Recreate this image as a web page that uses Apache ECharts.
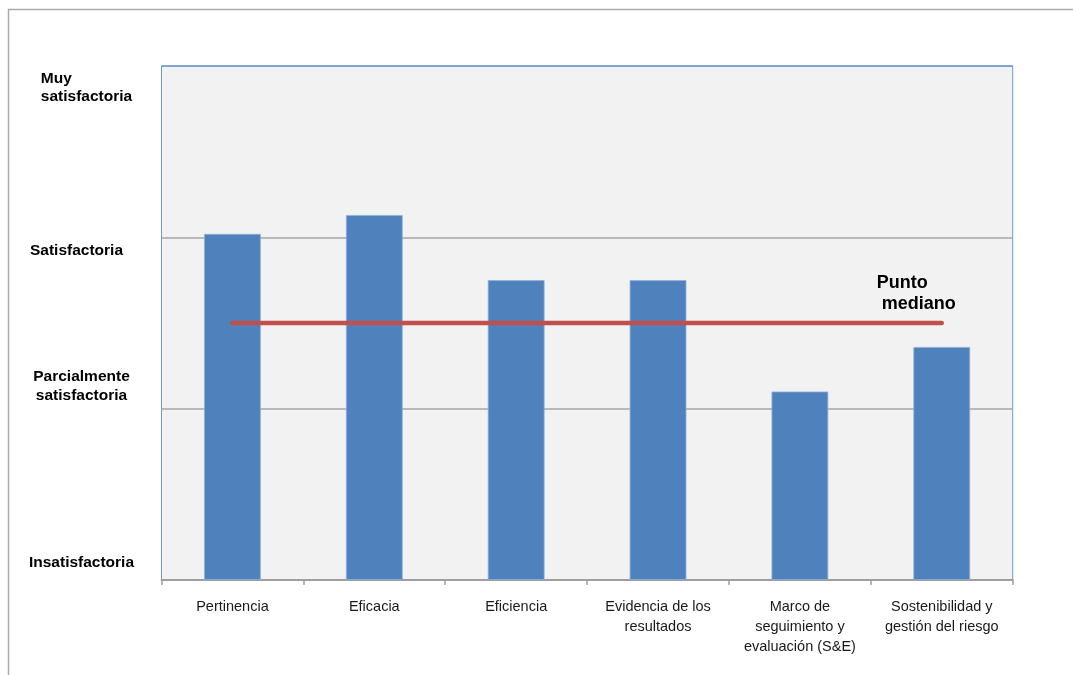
<!DOCTYPE html>
<html>
<head>
<meta charset="utf-8">
<script src="https://cdn.jsdelivr.net/npm/echarts@6/dist/echarts.min.js"></script>
<style>
html,body{margin:0;padding:0;background:#fff;}
#chart{width:1073px;height:675px;}
</style>
</head>
<body>
<div id="chart"></div>
<script>
const categories = ['Pertinencia', 'Eficacia', 'Eficiencia', 'Evidencia de los\nresultados', 'Marco de\nseguimiento y\nevaluación (S&E)', 'Sostenibilidad y\ngestión del riesgo'];
const ratings = [2.02, 2.13, 1.75, 1.75, 1.10, 1.36];
const medianValues = [1.5, 1.5, 1.5, 1.5, 1.5, 1.5];
const medianLabel = 'Punto\n mediano';
const levelLabels = ['Insatisfactoria', 'Parcialmente\nsatisfactoria', 'Satisfactoria', 'Muy\nsatisfactoria'];
const levelLabelValues = [0.10, 1.13, 1.92, 2.875];

const FONT = 'Liberation Sans, Arial, sans-serif';
const chart = echarts.init(document.getElementById('chart'));

function levelFormatter(v) {
  let best = 0, bd = Infinity;
  levelLabelValues.forEach((lv, i) => { const d = Math.abs(lv - v); if (d < bd) { bd = d; best = i; } });
  if (best === 3) {
    return levelLabels[best].split('\n').map(s => '{m|' + s + '}').join('\n');
  }
  if (best === 2) {
    return '{s|' + levelLabels[best] + '}';
  }
  return levelLabels[best];
}

const labelFont = { color: '#000', fontWeight: 'bold', fontSize: 15.5, fontFamily: FONT };

chart.setOption({
  animation: false,
  backgroundColor: '#ffffff',
  graphic: [{
    type: 'rect', silent: true, z: -10,
    shape: { x: 8.5, y: 9.5, width: 1200, height: 800 },
    style: { fill: 'none', stroke: '#ABABAB', lineWidth: 1.5 }
  }],
  grid: {
    left: 161.5, right: 60.3, top: 66, bottom: 95,
    show: true, backgroundColor: '#F2F2F2', borderColor: '#6F97CB', borderWidth: 1
  },
  xAxis: {
    type: 'category',
    data: categories,
    axisLine: { lineStyle: { color: '#9E9E9E', width: 2 } },
    axisTick: { show: true, length: 5, lineStyle: { color: '#9E9E9E', width: 1.5 } },
    axisLabel: { color: '#1a1a1a', fontSize: 14.5, lineHeight: 20, margin: 17, fontFamily: FONT, interval: 0 },
    splitLine: { show: false }
  },
  yAxis: {
    type: 'value',
    min: 0, max: 3, interval: 1,
    axisLine: { show: false },
    axisTick: { show: false },
    splitLine: { show: true, lineStyle: { color: ['#A6A6A6', '#A6A6A6', '#A6A6A6', '#6F97CB'], width: 1.5 } },
    axisLabel: Object.assign({
      customValues: levelLabelValues,
      formatter: levelFormatter,
      lineHeight: 19,
      align: 'center', margin: 80,
      rich: {
        m: Object.assign({ align: 'left', lineHeight: 18, padding: [0, 0, 0, 10] }, labelFont),
        s: Object.assign({ padding: [0, 10, 0, 0] }, labelFont)
      }
    }, labelFont)
  },
  series: [
    {
      type: 'bar',
      data: ratings,
      barWidth: '40%',
      itemStyle: { color: '#4F81BD', borderColor: '#8FAEDA', borderWidth: 0.8 },
      z: 2
    },
    {
      type: 'line',
      data: medianValues,
      showSymbol: false,
      symbol: 'none',
      lineStyle: { color: '#C0504D', width: 4.5, cap: 'round' },
      z: 3,
      endLabel: {
        show: true,
        formatter: medianLabel,
        color: '#000', fontWeight: 'bold', fontSize: 18, lineHeight: 21, fontFamily: FONT,
        align: 'left', verticalAlign: 'bottom',
        offset: [-73, -8]
      }
    }
  ]
});
</script>
</body>
</html>
